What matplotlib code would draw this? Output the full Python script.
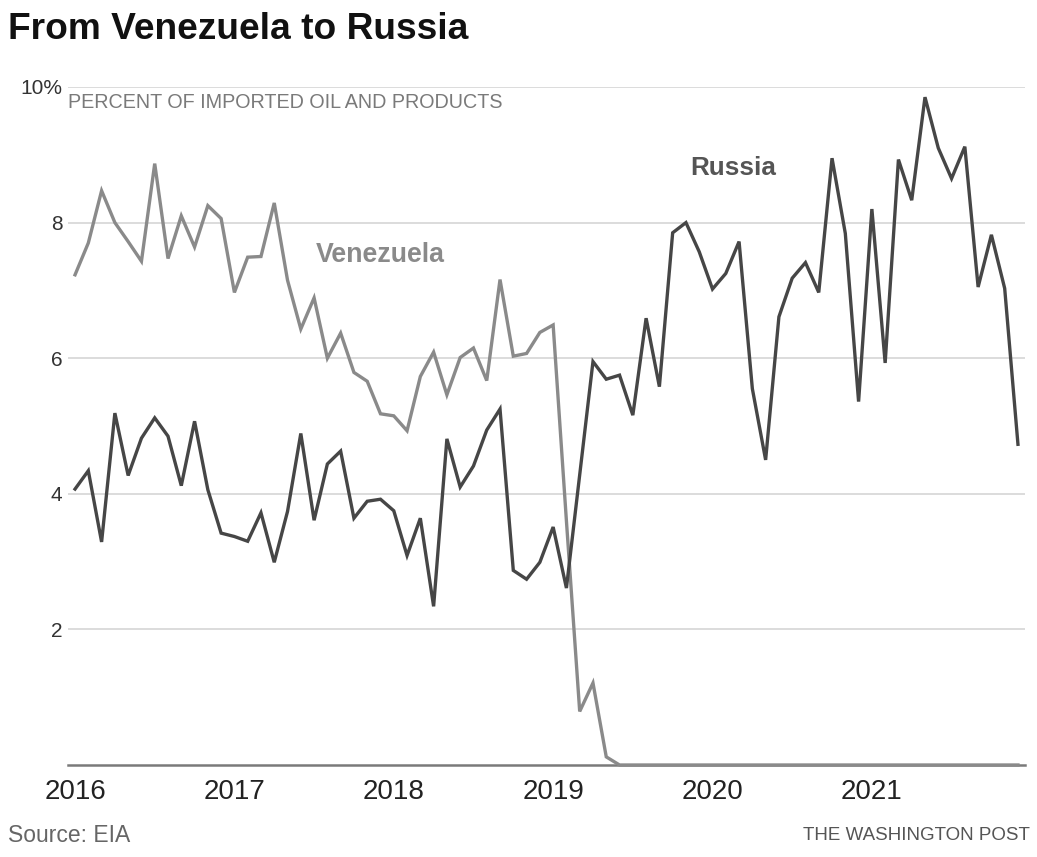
import matplotlib
matplotlib.use("Agg")
import matplotlib.pyplot as plt
import numpy as np

plt.rcParams['font.family'] = ['Liberation Sans', 'DejaVu Sans']

# monthly share of US imported oil and products, Jan 2016 - Dec 2021 (percent)
venezuela = [7.23, 7.70, 8.47, 8.00, 7.72, 7.43, 8.87, 7.47, 8.10, 7.64, 8.25, 8.06,
             6.97, 7.49, 7.50, 8.29, 7.15, 6.43, 6.89, 6.00, 6.37, 5.79, 5.66, 5.18,
             5.15, 4.93, 5.73, 6.09, 5.46, 6.01, 6.15, 5.67, 7.16, 6.03, 6.07, 6.38,
             6.49, 3.60, 0.79, 1.21, 0.12, 0.00, 0.00, 0.00, 0.00, 0.00, 0.00, 0.00,
             0.00, 0.00, 0.00, 0.00, 0.00, 0.00, 0.00, 0.00, 0.00, 0.00, 0.00, 0.00,
             0.00, 0.00, 0.00, 0.00, 0.00, 0.00, 0.00, 0.00, 0.00, 0.00, 0.00, 0.00]
russia = [4.07, 4.34, 3.29, 5.19, 4.27, 4.82, 5.12, 4.85, 4.12, 5.07, 4.06, 3.42,
          3.37, 3.30, 3.72, 2.99, 3.74, 4.89, 3.61, 4.44, 4.63, 3.64, 3.89, 3.92,
          3.75, 3.09, 3.64, 2.34, 4.81, 4.10, 4.41, 4.94, 5.25, 2.87, 2.74, 2.99,
          3.51, 2.61, 4.28, 5.95, 5.69, 5.75, 5.16, 6.59, 5.58, 7.85, 8.00, 7.57,
          7.02, 7.25, 7.72, 5.55, 4.50, 6.61, 7.18, 7.41, 6.97, 8.95, 7.84, 5.36,
          8.20, 5.93, 8.93, 8.33, 9.85, 9.10, 8.65, 9.12, 7.05, 7.82, 7.03, 4.73]
years = ['2016', '2017', '2018', '2019', '2020', '2021']
y_ticks = [2, 4, 6, 8, 10]
y_labels = ['2', '4', '6', '8', '10%']

months = np.arange(len(russia))

W, H = 1037, 857
fig = plt.figure(figsize=(W / 100, H / 100), dpi=100)
ax = fig.add_axes([68 / W, 92 / H, 957 / W, 678 / H])

ax.set_xlim(-0.53, 71.53)
ax.set_ylim(0, 10)
for s in ax.spines.values():
    s.set_visible(False)

ax.set_yticks(y_ticks)
ax.set_yticklabels(y_labels)
ax.set_xticks(np.arange(len(years)) * 12)
ax.set_xticklabels(years)
ax.tick_params(axis='y', length=0, pad=4, labelsize=15, labelcolor='#333333')
ax.tick_params(axis='x', length=0, pad=10, labelsize=20, labelcolor='#222222')
ax.grid(axis='y', color='#d2d2d2', lw=1.1)
ax.set_axisbelow(True)
ax.axhline(0, color='#7a7a7a', lw=1.8, zorder=1, clip_on=False)

ax.plot(months, venezuela, color='#8a8a8a', lw=2.4, zorder=3, clip_on=False,
        solid_joinstyle='miter')
ax.plot(months, russia, color='#464646', lw=2.4, zorder=4, clip_on=False,
        solid_joinstyle='miter')

ax.text(18.1, 7.52, 'Venezuela', color='#8a8a8a', fontsize=19.3,
        fontweight='bold', va='center', ha='left')
ax.text(46.3, 8.8, 'Russia', color='#555555', fontsize=18.8,
        fontweight='bold', va='center', ha='left')

fig.text(8 / W, 1 - 39 / H, 'From Venezuela to Russia', fontsize=26.7,
         fontweight='bold', color='#111111', va='baseline', ha='left')
fig.text(68 / W, 1 - 103 / H, 'PERCENT OF IMPORTED OIL AND PRODUCTS',
         fontsize=14.2, color='#7a7a7a', va='center', ha='left')
fig.text(8 / W, 1 - 836 / H, 'Source: EIA', fontsize=16.5, color='#666666',
         va='center', ha='left')
fig.text(1030 / W, 1 - 836 / H, 'THE WASHINGTON POST', fontsize=13.5,
         color='#555555', va='center', ha='right')

fig.savefig('out.png', dpi=100, facecolor='white')
